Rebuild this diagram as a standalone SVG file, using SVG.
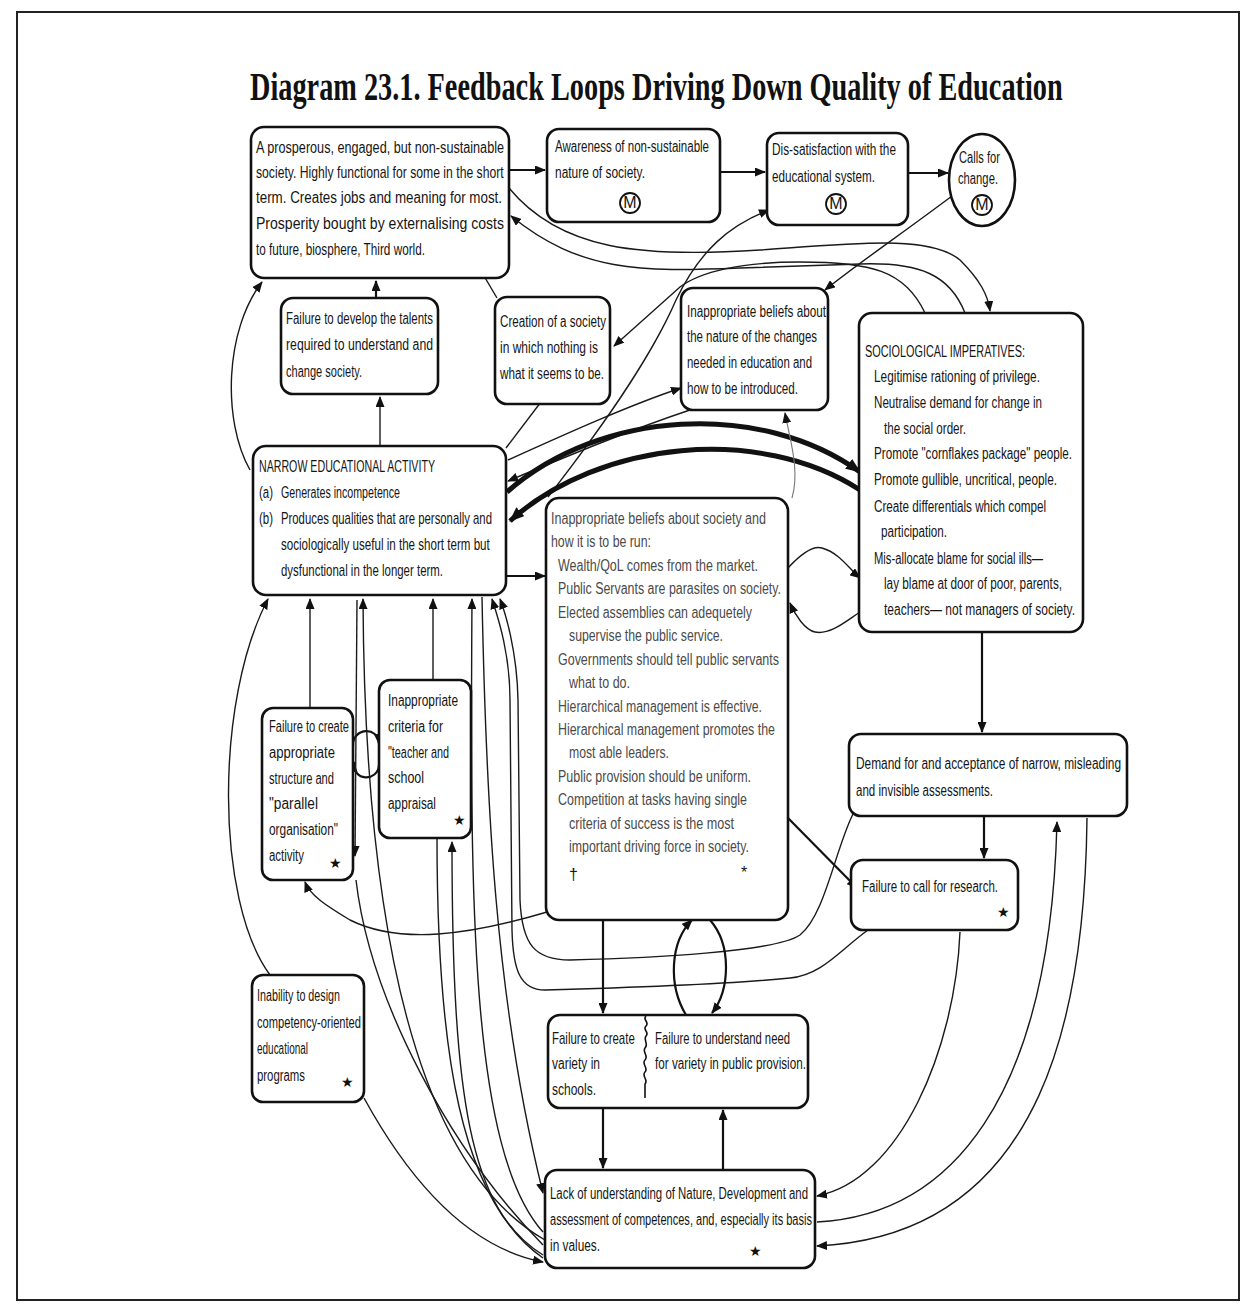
<svg xmlns="http://www.w3.org/2000/svg" width="1246" height="1306" viewBox="0 0 1246 1306">
<defs>
<marker id="a" markerUnits="userSpaceOnUse" markerWidth="11" markerHeight="9" refX="10" refY="4.5" orient="auto"><path d="M0,0 L11,4.5 L0,9 z" fill="#111"/></marker>
<marker id="ab" markerUnits="userSpaceOnUse" markerWidth="15" markerHeight="12" refX="14" refY="6" orient="auto"><path d="M0,0 L15,6 L0,12 z" fill="#111"/></marker>
<style>
.b{fill:#fff;stroke:#111;stroke-width:2.6}
.t{font-family:"Liberation Sans",Arial,sans-serif;font-size:16px;fill:#151515}
.g{fill:#4a4a4a}
.s{font-family:"DejaVu Sans",sans-serif;font-size:14px;fill:#111}
.c{fill:none;stroke:#1a1a1a;stroke-width:1.4}
.k{fill:none;stroke:#111;stroke-width:2.2}
.h{fill:none;stroke:#111;stroke-width:5}
.l{fill:none;stroke:#777;stroke-width:1.1}
.m{fill:#fff;stroke:#111;stroke-width:1.8}
</style>
</defs>
<rect x="0" y="0" width="1246" height="1306" fill="#fff"/>
<rect x="17" y="12" width="1222" height="1288" fill="none" stroke="#222" stroke-width="2"/>
<text x="250" y="100" transform="matrix(0.7 0 0 1 75 0)" font-family="Liberation Serif,serif" font-weight="bold" font-size="40" textLength="1161" lengthAdjust="spacingAndGlyphs" fill="#111">Diagram 23.1. Feedback Loops Driving Down Quality of Education</text>

<g id="connectors">
<path class="k" d="M509,170 L545,170" marker-end="url(#a)"/>
<path class="k" d="M720,172 L765,172" marker-end="url(#a)"/>
<path class="k" d="M908,173 L948,173" marker-end="url(#a)"/>
<path class="c" d="M509,188 C560,250 640,258 760,250 C860,243 930,235 960,260 C980,280 988,295 990,311" marker-end="url(#a)"/>
<path class="c" d="M965,313 C950,275 920,262 860,264 L740,268 C640,272 580,272 511,216" marker-end="url(#a)"/>
<path class="c" d="M925,313 C905,270 870,262 800,262 C740,262 700,272 680,287 L614,346" marker-end="url(#a)"/>
<path class="c" d="M952,196 C900,235 860,262 825,290" marker-end="url(#a)"/>
<path class="c" d="M548,497 C600,430 650,360 676,300 C700,250 730,225 769,210" marker-end="url(#a)"/>
<path class="c" d="M506,448 L547,394" marker-end="url(#a)"/>
<path class="c" d="M508,460 C570,432 630,405 681,388" marker-end="url(#a)"/>
<path class="c" d="M690,410 C630,430 570,455 508,481" marker-end="url(#a)"/>
<path class="h" d="M507,492 C600,410 760,400 860,472" marker-end="url(#ab)"/>
<path class="h" d="M860,490 C760,425 600,440 510,521" marker-end="url(#ab)"/>
<path class="l" d="M792,498 C800,470 790,440 785,413" marker-end="url(#a)"/>
<path class="k" d="M506,576 L545,576" marker-end="url(#a)"/>
<path class="c" d="M788,568 C800,555 812,545 822,548 C840,553 850,570 860,578" marker-end="url(#a)"/>
<path class="c" d="M860,612 C845,622 830,635 815,632 C805,630 795,615 790,603" marker-end="url(#a)"/>
<path class="k" d="M982,632 L982,732" marker-end="url(#a)"/>
<path class="k" d="M984,816 L984,858" marker-end="url(#a)"/>
<path class="k" d="M788,818 L857,888" marker-end="url(#a)"/>
<path class="c" d="M853,814 C835,850 825,915 800,935 C775,952 650,958 570,960 C535,960 522,945 520,900 L518,700 C517,650 505,612 500,599" marker-end="url(#a)"/>
<path class="c" d="M868,930 C840,950 822,975 790,978 C720,985 620,988 545,990 C520,990 513,970 512,930 L510,700 C510,650 496,612 492,599" marker-end="url(#a)"/>
<path class="k" d="M603,920 L603,1013" marker-end="url(#a)"/>
<path class="k" d="M686,1015 C668,985 670,942 692,920" marker-end="url(#a)"/>
<path class="k" d="M710,920 C732,945 730,990 712,1013" marker-end="url(#a)"/>
<path class="k" d="M603,1108 L603,1168" marker-end="url(#a)"/>
<path class="k" d="M723,1170 L723,1110" marker-end="url(#a)"/>
<path class="c" d="M960,932 C955,1050 900,1180 817,1196" marker-end="url(#a)"/>
<path class="c" d="M817,1222 C950,1215 1050,1100 1057,822" marker-end="url(#a)"/>
<path class="c" d="M1087,818 C1085,1000 1050,1235 817,1246" marker-end="url(#a)"/>
<path class="c" d="M250,470 C222,420 225,330 262,282" marker-end="url(#a)"/>
<path class="k" d="M376,298 L376,281" marker-end="url(#a)"/>
<path class="c" d="M380,446 L380,397" marker-end="url(#a)"/>
<path class="c" d="M497,298 L461,237" marker-end="url(#a)"/>
<path class="c" d="M270,975 C215,900 215,700 268,599" marker-end="url(#a)"/>
<path class="c" d="M310,708 L310,599" marker-end="url(#a)"/>
<path class="c" d="M433,680 L433,599" marker-end="url(#a)"/>
<path class="k" d="M353,746 C352,728 378,725 379,744" marker-end="url(#a)"/>
<path class="k" d="M379,765 C378,782 352,782 354,762" marker-end="url(#a)"/>
<path class="c" d="M547,912 C470,935 400,945 350,920 C325,905 310,895 305,882" marker-end="url(#a)"/>
<path class="c" d="M357,600 L355,856" marker-end="url(#a)"/>
<path class="c" d="M545,1240 C440,1180 365,1000 363,599" marker-end="url(#a)"/>
<path class="c" d="M482,597 C486,800 495,1000 543,1193" marker-end="url(#a)"/>
<path class="c" d="M543,1232 C470,1150 470,900 472,599" marker-end="url(#a)"/>
<path class="c" d="M543,1255 C470,1210 452,1100 452,842" marker-end="url(#a)"/>
<path class="c" d="M437,838 C437,1050 460,1200 543,1258"/>
<path class="c" d="M356,880 C370,1000 450,1150 543,1245"/>
<path class="c" d="M364,1098 C420,1200 480,1250 543,1262" marker-end="url(#a)"/>
</g>

<g id="n1"><rect class="b" x="251" y="127" width="258" height="151" rx="13"/>
<text class="t" x="256" y="153" textLength="248" lengthAdjust="spacingAndGlyphs">A prosperous, engaged, but non-sustainable</text>
<text class="t" x="256" y="178" transform="matrix(0.72 0 0 1 71.68 0)" textLength="344" lengthAdjust="spacingAndGlyphs">society. Highly functional for some in the short</text>
<text class="t" x="256" y="203" textLength="246" lengthAdjust="spacingAndGlyphs">term. Creates jobs and meaning for most.</text>
<text class="t" x="256" y="229" textLength="248" lengthAdjust="spacingAndGlyphs">Prosperity bought by externalising costs</text>
<text class="t" x="256" y="255" textLength="169" lengthAdjust="spacingAndGlyphs">to future, biosphere, Third world.</text></g>

<g id="n2"><rect class="b" x="547" y="129" width="173" height="93" rx="12"/>
<text class="t" x="555" y="152" textLength="154" lengthAdjust="spacingAndGlyphs">Awareness of non-sustainable</text>
<text class="t" x="555" y="178" textLength="90" lengthAdjust="spacingAndGlyphs">nature of society.</text>
<circle class="m" cx="630" cy="203" r="10"/><text class="t" x="630" y="208" font-size="13" text-anchor="middle">M</text></g>

<g id="n3"><rect class="b" x="767" y="133" width="141" height="92" rx="12"/>
<text class="t" x="772" y="155" textLength="124" lengthAdjust="spacingAndGlyphs">Dis-satisfaction with the</text>
<text class="t" x="772" y="182" textLength="103" lengthAdjust="spacingAndGlyphs">educational system.</text>
<circle class="m" cx="836" cy="204" r="10"/><text class="t" x="836" y="209" font-size="13" text-anchor="middle">M</text></g>

<g id="n4"><ellipse class="b" cx="982" cy="180" rx="33" ry="46"/>
<text class="t" x="959" y="163" textLength="41" lengthAdjust="spacingAndGlyphs">Calls for</text>
<text class="t" x="958" y="184" textLength="40" lengthAdjust="spacingAndGlyphs">change.</text>
<circle class="m" cx="982" cy="205" r="10"/><text class="t" x="982" y="210" font-size="13" text-anchor="middle">M</text></g>

<g id="n5"><rect class="b" x="281" y="298" width="157" height="96" rx="12"/>
<text class="t" x="286" y="324" textLength="147" lengthAdjust="spacingAndGlyphs">Failure to develop the talents</text>
<text class="t" x="286" y="350" textLength="147" lengthAdjust="spacingAndGlyphs">required to understand and</text>
<text class="t" x="286" y="377" textLength="76" lengthAdjust="spacingAndGlyphs">change society.</text></g>

<g id="n6"><rect class="b" x="495" y="297" width="115" height="107" rx="12"/>
<text class="t" x="500" y="327" textLength="106" lengthAdjust="spacingAndGlyphs">Creation of a society</text>
<text class="t" x="500" y="353" textLength="98" lengthAdjust="spacingAndGlyphs">in which nothing is</text>
<text class="t" x="500" y="379" textLength="104" lengthAdjust="spacingAndGlyphs">what it seems to be.</text></g>

<g id="n7"><rect class="b" x="681" y="288" width="147" height="122" rx="12"/>
<text class="t" x="687" y="317" textLength="139" lengthAdjust="spacingAndGlyphs">Inappropriate beliefs about</text>
<text class="t" x="687" y="342" textLength="130" lengthAdjust="spacingAndGlyphs">the nature of the changes</text>
<text class="t" x="687" y="368" textLength="125" lengthAdjust="spacingAndGlyphs">needed in education and</text>
<text class="t" x="687" y="394" textLength="111" lengthAdjust="spacingAndGlyphs">how to be introduced.</text></g>

<g id="n8"><rect class="b" x="859" y="313" width="224" height="319" rx="13"/>
<text class="t" x="865" y="357" textLength="160" lengthAdjust="spacingAndGlyphs">SOCIOLOGICAL IMPERATIVES:</text>
<text class="t" x="874" y="382" textLength="166" lengthAdjust="spacingAndGlyphs">Legitimise rationing of privilege.</text>
<text class="t" x="874" y="408" textLength="168" lengthAdjust="spacingAndGlyphs">Neutralise demand for change in</text>
<text class="t" x="884" y="434" textLength="82" lengthAdjust="spacingAndGlyphs">the social order.</text>
<text class="t" x="874" y="459" textLength="198" lengthAdjust="spacingAndGlyphs">Promote "cornflakes package" people.</text>
<text class="t" x="874" y="485" textLength="183" lengthAdjust="spacingAndGlyphs">Promote gullible, uncritical, people.</text>
<text class="t" x="874" y="512" textLength="172" lengthAdjust="spacingAndGlyphs">Create differentials which compel</text>
<text class="t" x="881" y="537" textLength="66" lengthAdjust="spacingAndGlyphs">participation.</text>
<text class="t" x="874" y="564" textLength="169" lengthAdjust="spacingAndGlyphs">Mis-allocate blame for social ills—</text>
<text class="t" x="884" y="589" textLength="178" lengthAdjust="spacingAndGlyphs">lay blame at door of poor, parents,</text>
<text class="t" x="884" y="615" textLength="191" lengthAdjust="spacingAndGlyphs">teachers— not  managers of society.</text></g>

<g id="n9"><rect class="b" x="253" y="446" width="253" height="149" rx="13"/>
<text class="t" x="259" y="472" textLength="176" lengthAdjust="spacingAndGlyphs">NARROW EDUCATIONAL ACTIVITY</text>
<text class="t" x="259" y="498" textLength="14" lengthAdjust="spacingAndGlyphs">(a)</text>
<text class="t" x="281" y="498" textLength="119" lengthAdjust="spacingAndGlyphs">Generates incompetence</text>
<text class="t" x="259" y="524" textLength="14" lengthAdjust="spacingAndGlyphs">(b)</text>
<text class="t" x="281" y="524" transform="matrix(0.72 0 0 1 78.68 0)" textLength="293" lengthAdjust="spacingAndGlyphs">Produces qualities that are personally and</text>
<text class="t" x="281" y="550" transform="matrix(0.72 0 0 1 78.68 0)" textLength="290" lengthAdjust="spacingAndGlyphs">sociologically useful in the short term but</text>
<text class="t" x="281" y="576" transform="matrix(0.72 0 0 1 78.68 0)" textLength="225" lengthAdjust="spacingAndGlyphs">dysfunctional in the longer term.</text></g>

<g id="n10"><rect class="b" x="546" y="498" width="242" height="422" rx="13"/>
<text class="t g" x="551" y="524" textLength="215" lengthAdjust="spacingAndGlyphs">Inappropriate beliefs about society and</text>
<text class="t g" x="551" y="547" textLength="100" lengthAdjust="spacingAndGlyphs">how it is to be run:</text>
<text class="t g" x="558" y="571" textLength="200" lengthAdjust="spacingAndGlyphs">Wealth/QoL comes from the market.</text>
<text class="t g" x="558" y="594" textLength="223" lengthAdjust="spacingAndGlyphs">Public Servants are parasites on society.</text>
<text class="t g" x="558" y="618" textLength="194" lengthAdjust="spacingAndGlyphs">Elected assemblies can adequetely</text>
<text class="t g" x="569" y="641" textLength="154" lengthAdjust="spacingAndGlyphs">supervise the public service.</text>
<text class="t g" x="558" y="665" textLength="221" lengthAdjust="spacingAndGlyphs">Governments should tell public servants</text>
<text class="t g" x="569" y="688" textLength="61" lengthAdjust="spacingAndGlyphs">what to do.</text>
<text class="t g" x="558" y="712" textLength="204" lengthAdjust="spacingAndGlyphs">Hierarchical management is effective.</text>
<text class="t g" x="558" y="735" textLength="217" lengthAdjust="spacingAndGlyphs">Hierarchical management promotes the</text>
<text class="t g" x="569" y="758" textLength="100" lengthAdjust="spacingAndGlyphs">most able leaders.</text>
<text class="t g" x="558" y="782" textLength="193" lengthAdjust="spacingAndGlyphs">Public provision should be uniform.</text>
<text class="t g" x="558" y="805" textLength="189" lengthAdjust="spacingAndGlyphs">Competition at tasks having single</text>
<text class="t g" x="569" y="829" textLength="165" lengthAdjust="spacingAndGlyphs">criteria of success is the most</text>
<text class="t g" x="569" y="852" textLength="180" lengthAdjust="spacingAndGlyphs">important driving force in society.</text>
<text class="t" x="569" y="880">†</text>
<text class="t" x="741" y="878">*</text></g>

<g id="n11"><rect class="b" x="262" y="708" width="91" height="172" rx="11"/>
<text class="t" x="269" y="732" textLength="80" lengthAdjust="spacingAndGlyphs">Failure to create</text>
<text class="t" x="269" y="758" textLength="66" lengthAdjust="spacingAndGlyphs">appropriate</text>
<text class="t" x="269" y="784" textLength="65" lengthAdjust="spacingAndGlyphs">structure and</text>
<text class="t" x="269" y="809" textLength="49" lengthAdjust="spacingAndGlyphs">"parallel</text>
<text class="t" x="269" y="835" textLength="69" lengthAdjust="spacingAndGlyphs">organisation"</text>
<text class="t" x="269" y="861" textLength="35" lengthAdjust="spacingAndGlyphs">activity</text>
<text class="s" x="329" y="868">★</text></g>

<g id="n12"><rect class="b" x="379" y="680" width="92" height="158" rx="11"/>
<text class="t" x="388" y="706" textLength="70" lengthAdjust="spacingAndGlyphs">Inappropriate</text>
<text class="t" x="388" y="732" textLength="55" lengthAdjust="spacingAndGlyphs">criteria for</text>
<text class="t" x="388" y="758" textLength="61" lengthAdjust="spacingAndGlyphs">"teacher and</text>
<text class="t" x="388" y="783" textLength="36" lengthAdjust="spacingAndGlyphs">school</text>
<text class="t" x="388" y="809" textLength="48" lengthAdjust="spacingAndGlyphs">appraisal</text>
<text class="s" x="453" y="825">★</text></g>

<g id="n13"><rect class="b" x="849" y="734" width="278" height="82" rx="12"/>
<text class="t" x="856" y="769" textLength="265" lengthAdjust="spacingAndGlyphs">Demand for  and acceptance of  narrow, misleading</text>
<text class="t" x="856" y="796" textLength="137" lengthAdjust="spacingAndGlyphs">and invisible assessments.</text></g>

<g id="n14"><rect class="b" x="851" y="860" width="167" height="70" rx="12"/>
<text class="t" x="862" y="892" textLength="136" lengthAdjust="spacingAndGlyphs">Failure to call for research.</text>
<text class="s" x="997" y="917">★</text></g>

<g id="n15"><rect class="b" x="252" y="975" width="112" height="127" rx="11" stroke-width="1.8"/>
<text class="t" x="257" y="1001" textLength="83" lengthAdjust="spacingAndGlyphs">Inability to design</text>
<text class="t" x="257" y="1028" textLength="104" lengthAdjust="spacingAndGlyphs">competency-oriented</text>
<text class="t" x="257" y="1054" textLength="51" lengthAdjust="spacingAndGlyphs">educational</text>
<text class="t" x="257" y="1081" textLength="48" lengthAdjust="spacingAndGlyphs">programs</text>
<text class="s" x="341" y="1087">★</text></g>

<g id="n16"><rect class="b" x="548" y="1015" width="260" height="93" rx="12"/>
<path d="M646,1016 c-4,4 4,6 0,10 c-4,4 4,6 0,10 c-3,4 3,8 -1,12 c-3,4 4,8 0,12 c-4,4 4,8 0,12 c-4,4 4,8 0,12 l0,14" fill="none" stroke="#111" stroke-width="1.6"/>
<text class="t" x="552" y="1044" transform="matrix(0.72 0 0 1 154.56 0)" textLength="115" lengthAdjust="spacingAndGlyphs">Failure to create</text>
<text class="t" x="552" y="1069" textLength="48" lengthAdjust="spacingAndGlyphs">variety in</text>
<text class="t" x="552" y="1095" textLength="44" lengthAdjust="spacingAndGlyphs">schools.</text>
<text class="t" x="655" y="1044" textLength="135" lengthAdjust="spacingAndGlyphs">Failure to understand need</text>
<text class="t" x="655" y="1069" textLength="151" lengthAdjust="spacingAndGlyphs">for variety in public provision.</text></g>

<g id="n17"><rect class="b" x="545" y="1170" width="270" height="98" rx="12"/>
<text class="t" x="550" y="1199" textLength="258" lengthAdjust="spacingAndGlyphs">Lack of understanding of Nature, Development and</text>
<text class="t" x="550" y="1225" textLength="262" lengthAdjust="spacingAndGlyphs">assessment of competences, and, especially its basis</text>
<text class="t" x="550" y="1251" textLength="50" lengthAdjust="spacingAndGlyphs">in values.</text>
<text class="s" x="749" y="1256">★</text></g>
</svg>
